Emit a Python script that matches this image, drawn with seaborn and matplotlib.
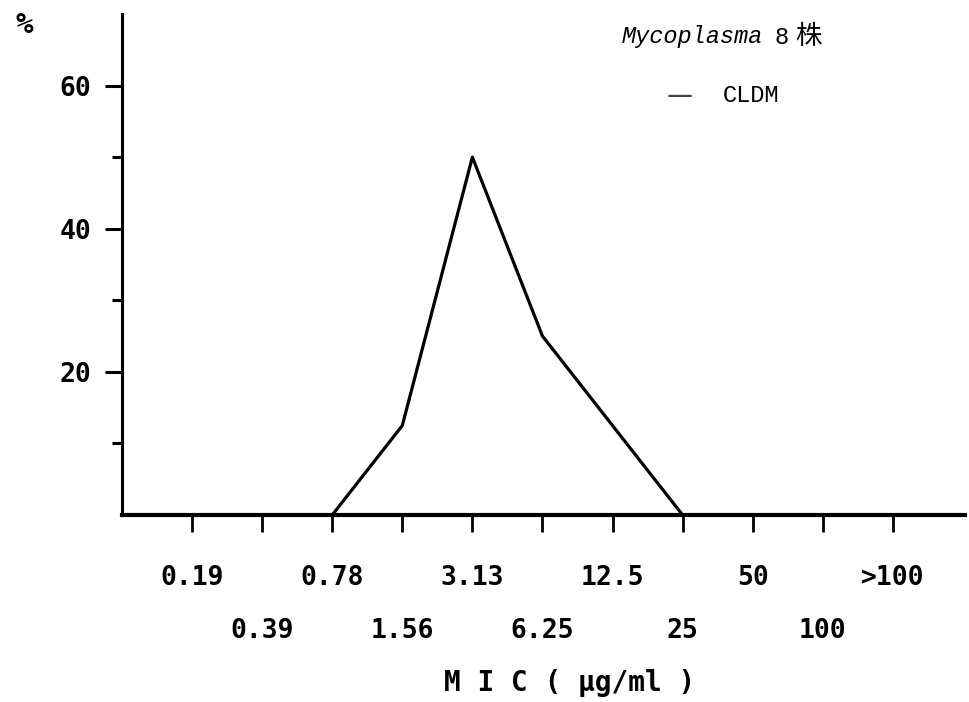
import matplotlib
matplotlib.use('Agg')
import matplotlib.pyplot as plt
import seaborn as sns
import pandas as pd

# MIC distribution, Mycoplasma 8 strains, CLDM
mic_labels = ['0.19', '0.39', '0.78', '1.56', '3.13', '6.25', '12.5', '25', '50', '100', '>100']
pct = [0, 0, 0, 12.5, 50, 25, 12.5, 0, 0, 0, 0]
y_major = [20, 40, 60]
y_minor = [10, 30, 50]

df = pd.DataFrame({'pos': range(len(mic_labels)), 'pct': pct})

sns.set_style('ticks')
plt.rcParams['font.family'] = ['DejaVu Sans Mono', 'Noto Sans CJK SC']
plt.rcParams['text.color'] = 'black'
plt.rcParams['xtick.color'] = 'black'
plt.rcParams['ytick.color'] = 'black'
plt.rcParams['axes.edgecolor'] = 'black'

fig = plt.figure(figsize=(9.69, 7.02), dpi=100)
ax = fig.add_axes([122 / 969, 1 - 515 / 702, (965 - 122) / 969, (515 - 14) / 702])

sns.lineplot(data=df, x='pos', y='pct', color='black', linewidth=2.3, ax=ax)

ax.set_xlim(-1, 11.03)
ax.set_ylim(0, 70)
sns.despine(ax=ax)
ax.spines['bottom'].set_linewidth(3)
ax.spines['left'].set_linewidth(2.2)

# staggered x labels: even on first row, odd on second row
even = list(range(0, len(mic_labels), 2))
odd = list(range(1, len(mic_labels), 2))
ax.set_xticks(even, [mic_labels[i] for i in even])
ax.set_xticks(odd, [mic_labels[i] for i in odd], minor=True)
ax.tick_params(axis='x', which='major', length=12, width=2, pad=24,
               labelsize=19)
ax.tick_params(axis='x', which='minor', length=12, width=2, pad=62,
               labelsize=19)
for lab in ax.get_xticklabels(which='both'):
    lab.set_fontweight('bold')

ax.set_yticks(y_major, [str(v) for v in y_major])
ax.set_yticks(y_minor, minor=True)
ax.tick_params(axis='y', which='major', length=12, width=2.2, pad=10,
               labelsize=19)
ax.tick_params(axis='y', which='minor', length=7, width=2.2)
for lab in ax.get_yticklabels():
    lab.set_fontweight('bold')

ax.set_xlabel('')
ax.set_ylabel('')

fig.text(24 / 969, 1 - 25 / 702, '%', fontsize=21, fontweight='bold',
         ha='center', va='center')
fig.text(570 / 969, 1 - 683 / 702, 'M I C ( μg/ml )', fontsize=20,
         fontweight='bold', ha='center', va='center')

fig.text(622 / 969, 1 - 37 / 702, 'Mycoplasma', fontsize=17, style='italic',
         family=['Liberation Mono'], ha='left', va='center')
fig.text(775 / 969, 1 - 37 / 702, '8', fontsize=17,
         family=['Liberation Mono'], ha='left', va='center')
fig.text(795 / 969, 1 - 36 / 702, '株', fontsize=19,
         family=['Noto Sans CJK SC'], ha='left', va='center')
fig.text(680 / 969, 1 - 96 / 702, '—', fontsize=21, color='#444444',
         family=['Noto Sans CJK SC'], ha='center', va='center')
fig.text(723 / 969, 1 - 96 / 702, 'CLDM', fontsize=17,
         family=['Liberation Mono'], ha='left', va='center')

fig.savefig('out.png', dpi=100)
